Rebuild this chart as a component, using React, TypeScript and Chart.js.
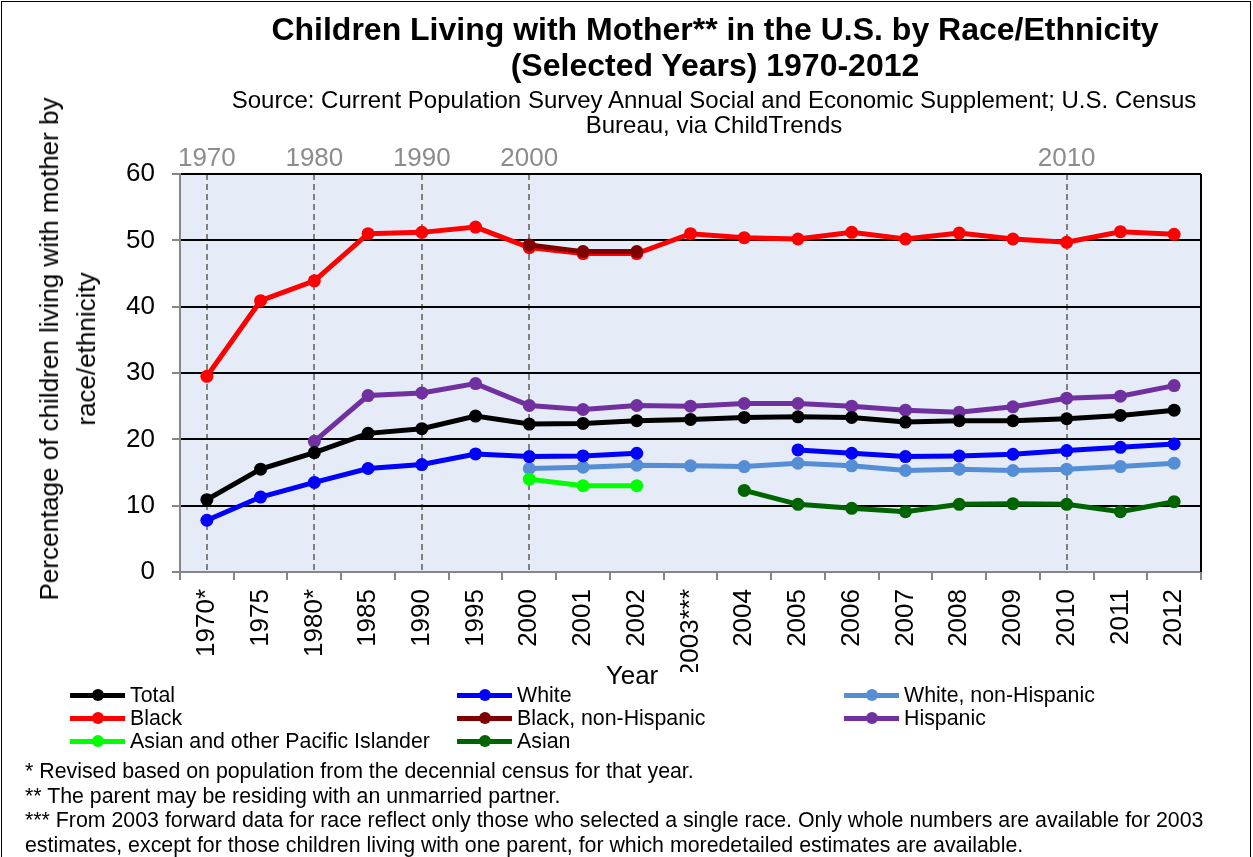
import React, { useEffect, useRef } from "react";
import { Chart, registerables } from "chart.js";

Chart.register(...registerables);

const years = ["1970*", "1975", "1980*", "1985", "1990", "1995", "2000", "2001", "2002", "2003***", "2004", "2005", "2006", "2007", "2008", "2009", "2010", "2011", "2012"];
const topLabels = ["1970", "", "1980", "", "1990", "", "2000", "", "", "", "", "", "", "", "", "", "2010", "", ""];
const decadeIdx = [0, 2, 4, 6, 16];
const yTicks = [0, 10, 20, 30, 40, 50, 60];

const total = [10.9, 15.5, 18.0, 20.9, 21.6, 23.5, 22.3, 22.4, 22.8, 23.0, 23.3, 23.4, 23.3, 22.6, 22.8, 22.8, 23.1, 23.6, 24.4];
const white = [7.8, 11.3, 13.5, 15.6, 16.2, 17.8, 17.4, 17.5, 17.9, null, null, 18.4, 17.9, 17.4, 17.5, 17.75, 18.3, 18.8, 19.3];
const whiteNonHispanic = [null, null, null, null, null, null, 15.6, 15.8, 16.1, 16.0, 15.9, 16.4, 16.0, 15.3, 15.5, 15.3, 15.5, 15.9, 16.4];
const black = [29.5, 40.9, 43.9, 51.0, 51.2, 52.0, 48.9, 48.0, 48.0, 51.0, 50.4, 50.2, 51.2, 50.2, 51.1, 50.2, 49.7, 51.3, 50.9];
const blackNonHispanic = [null, null, null, null, null, null, 49.3, 48.3, 48.3, null, null, null, null, null, null, null, null, null, null];
const hispanic = [null, null, 19.7, 26.6, 27.0, 28.4, 25.1, 24.5, 25.1, 25.0, 25.4, 25.4, 25.0, 24.4, 24.1, 24.9, 26.2, 26.5, 28.1];
const asianPacific = [null, null, null, null, null, null, 14.0, 13.0, 13.0, null, null, null, null, null, null, null, null, null, null];
const asian = [null, null, null, null, null, null, null, null, null, null, 12.3, 10.2, 9.6, 9.1, 10.2, 10.3, 10.2, 9.1, 10.6];

const seriesNames = ["Total", "White", "White, non-Hispanic", "Black", "Black, non-Hispanic", "Hispanic", "Asian and other Pacific Islander", "Asian"];
const seriesColors = ["#000000", "#0000FF", "#558ED5", "#FF0000", "#7F0000", "#7030A0", "#00FF00", "#006400"];
const seriesData = [total, white, whiteNonHispanic, black, blackNonHispanic, hispanic, asianPacific, asian];
const seriesOrder = [2, 2, 3, 5, 0, 4, 1, 1];

const FONT = "'Liberation Sans', Arial, Helvetica, sans-serif";
const GREY = "#868686";
const AXIS_FONT = 26;
const SMALL_FONT = 21.33;

const plotBg = {
  id: "plotBg",
  beforeDraw(chart: any) {
    const { ctx, chartArea } = chart;
    ctx.save();
    ctx.fillStyle = "#E5ECF7";
    ctx.fillRect(chartArea.left, chartArea.top, chartArea.right - chartArea.left, chartArea.bottom - chartArea.top);
    ctx.restore();
  },
  beforeDatasetsDraw(chart: any) {
    const { ctx, chartArea } = chart;
    ctx.save();
    ctx.strokeStyle = "#000";
    ctx.lineWidth = 2;
    ctx.beginPath();
    ctx.moveTo(chartArea.right, chartArea.top);
    ctx.lineTo(chartArea.right, chartArea.bottom);
    ctx.stroke();
    ctx.restore();
  },
};

function BaseText(props: { x: number; baseline: number; size: number; bold?: boolean; center?: boolean; color?: string; children: any }) {
  const { x, baseline, size, bold, center, color, children } = props;
  const top = baseline - 0.8465 * size;
  const style: any = {
    position: "absolute",
    top,
    fontFamily: FONT,
    fontSize: size,
    lineHeight: size + "px",
    fontWeight: bold ? "bold" : "normal",
    color: color || "#000",
    whiteSpace: "nowrap",
  };
  if (center) {
    style.left = x - 700;
    style.width = 1400;
    style.textAlign = "center";
  } else {
    style.left = x;
  }
  return <div style={style}>{children}</div>;
}

function RotText(props: { cx: number; cy: number; size: number; children: any }) {
  return (
    <div
      style={{
        position: "absolute",
        left: props.cx,
        top: props.cy,
        transform: "translate(-50%, -50%) rotate(-90deg)",
        fontFamily: FONT,
        fontSize: props.size,
        lineHeight: props.size + "px",
        whiteSpace: "nowrap",
        color: "#000",
      }}
    >
      {props.children}
    </div>
  );
}

const legendCols = [70, 457, 844];
const legendRows = [695, 718, 741];

export default function App() {
  const ref = useRef<HTMLCanvasElement>(null);

  useEffect(() => {
    if (!ref.current) return;
    const chart = new Chart(ref.current, {
      type: "line",
      data: {
        labels: years,
        datasets: seriesNames.map((name, i) => ({
          label: name,
          data: seriesData[i],
          borderColor: seriesColors[i],
          backgroundColor: seriesColors[i],
          pointBackgroundColor: seriesColors[i],
          pointBorderColor: seriesColors[i],
          borderWidth: 5,
          pointRadius: 6.5,
          pointHoverRadius: 6.5,
          pointBorderWidth: 0,
          tension: 0,
          fill: false,
          spanGaps: false,
          order: seriesOrder[i],
          xAxisID: "x",
          yAxisID: "y",
        })),
      },
      plugins: [plotBg],
      options: {
        animation: false,
        responsive: false,
        devicePixelRatio: 1,
        events: [],
        layout: { padding: { left: 0, right: 52, top: 144, bottom: 185 } },
        plugins: {
          legend: { display: false },
          title: { display: false },
          tooltip: { enabled: false },
        },
        scales: {
          x: {
            type: "category",
            position: "bottom",
            offset: true,
            grid: {
              offset: true,
              drawOnChartArea: false,
              color: GREY,
              tickColor: GREY,
              tickLength: 8,
              lineWidth: 2,
            },
            border: { color: GREY, width: 2 },
            ticks: {
              autoSkip: false,
              maxRotation: 90,
              minRotation: 90,
              color: "#000",
              font: { family: FONT, size: AXIS_FONT },
              padding: 9,
            },
            afterFit: (s: any) => {
              s.height = 100;
            },
          },
          x2: {
            type: "category",
            position: "top",
            labels: years,
            offset: true,
            grid: {
              offset: false,
              drawTicks: false,
              lineWidth: 2,
              color: (c: any) => (decadeIdx.includes(c.index) ? "#808080" : "rgba(0,0,0,0)"),
            },
            border: { display: false, dash: [6, 4] },
            ticks: {
              autoSkip: false,
              maxRotation: 0,
              minRotation: 0,
              color: "#8C8C8C",
              font: { family: FONT, size: AXIS_FONT },
              padding: 0,
              callback: (_v: any, i: number) => topLabels[i],
            },
            afterFit: (s: any) => {
              s.height = 30;
            },
          },
          y: {
            type: "linear",
            min: 0,
            max: 60,
            afterBuildTicks: (s: any) => {
              s.ticks = yTicks.map((v) => ({ value: v }));
            },
            grid: {
              color: (c: any) => (c.tick && c.tick.value === 0 ? "rgba(0,0,0,0)" : "#000"),
              lineWidth: 2,
              tickColor: GREY,
              tickWidth: 2,
              tickLength: 8,
            },
            border: { color: GREY, width: 2 },
            ticks: {
              color: "#000",
              font: { family: FONT, size: AXIS_FONT },
              padding: 17,
            },
            afterFit: (s: any) => {
              s.width = 180;
            },
          },
        },
      } as any,
    });
    return () => chart.destroy();
  }, []);

  return (
    <div style={{ position: "absolute", left: 0, top: 0, width: 1253, height: 857, overflow: "hidden", background: "#fff" }}>
      <canvas ref={ref} width={1253} height={857} style={{ position: "absolute", left: 0, top: 0, width: 1253, height: 857 }} />
      <BaseText x={715} baseline={40} size={32} bold center>
        Children Living with Mother** in the U.S. by Race/Ethnicity
      </BaseText>
      <BaseText x={715} baseline={76} size={32} bold center>
        (Selected Years) 1970-2012
      </BaseText>
      <BaseText x={714} baseline={108} size={24} center>
        Source: Current Population Survey Annual Social and Economic Supplement; U.S. Census
      </BaseText>
      <BaseText x={714} baseline={133} size={24} center>
        Bureau, via ChildTrends
      </BaseText>
      <RotText cx={49} cy={349} size={AXIS_FONT}>
        Percentage of children living with mother by
      </RotText>
      <RotText cx={86} cy={349} size={AXIS_FONT}>
        race/ethnicity
      </RotText>
      <BaseText x={632} baseline={684} size={AXIS_FONT} center>
        Year
      </BaseText>
      {seriesNames.map((name, i) => {
        const col = legendCols[i % 3];
        const row = legendRows[Math.floor(i / 3)];
        return (
          <React.Fragment key={name}>
            <div style={{ position: "absolute", left: col, top: row - 2.5, width: 55, height: 5, background: seriesColors[i] }} />
            <div
              style={{
                position: "absolute",
                left: col + 27.5 - 6,
                top: row - 6,
                width: 12,
                height: 12,
                borderRadius: "50%",
                background: seriesColors[i],
              }}
            />
            <BaseText x={col + 60} baseline={row + 8} size={SMALL_FONT}>
              {name}
            </BaseText>
          </React.Fragment>
        );
      })}
      <BaseText x={25} baseline={779} size={SMALL_FONT}>
        * Revised based on population from the decennial census for that year.
      </BaseText>
      <BaseText x={25} baseline={804} size={SMALL_FONT}>
        ** The parent may be residing with an unmarried partner.
      </BaseText>
      <BaseText x={25} baseline={828} size={SMALL_FONT}>
        *** From 2003 forward data for race reflect only those who selected a single race. Only whole numbers are available for 2003
      </BaseText>
      <BaseText x={25} baseline={853} size={SMALL_FONT}>
        estimates, except for those children living with one parent, for which moredetailed estimates are available.
      </BaseText>
      <div
        style={{
          position: "absolute",
          left: 1,
          top: 1,
          width: 1248,
          height: 900,
          border: "1px solid #000",
          pointerEvents: "none",
        }}
      />
    </div>
  );
}
